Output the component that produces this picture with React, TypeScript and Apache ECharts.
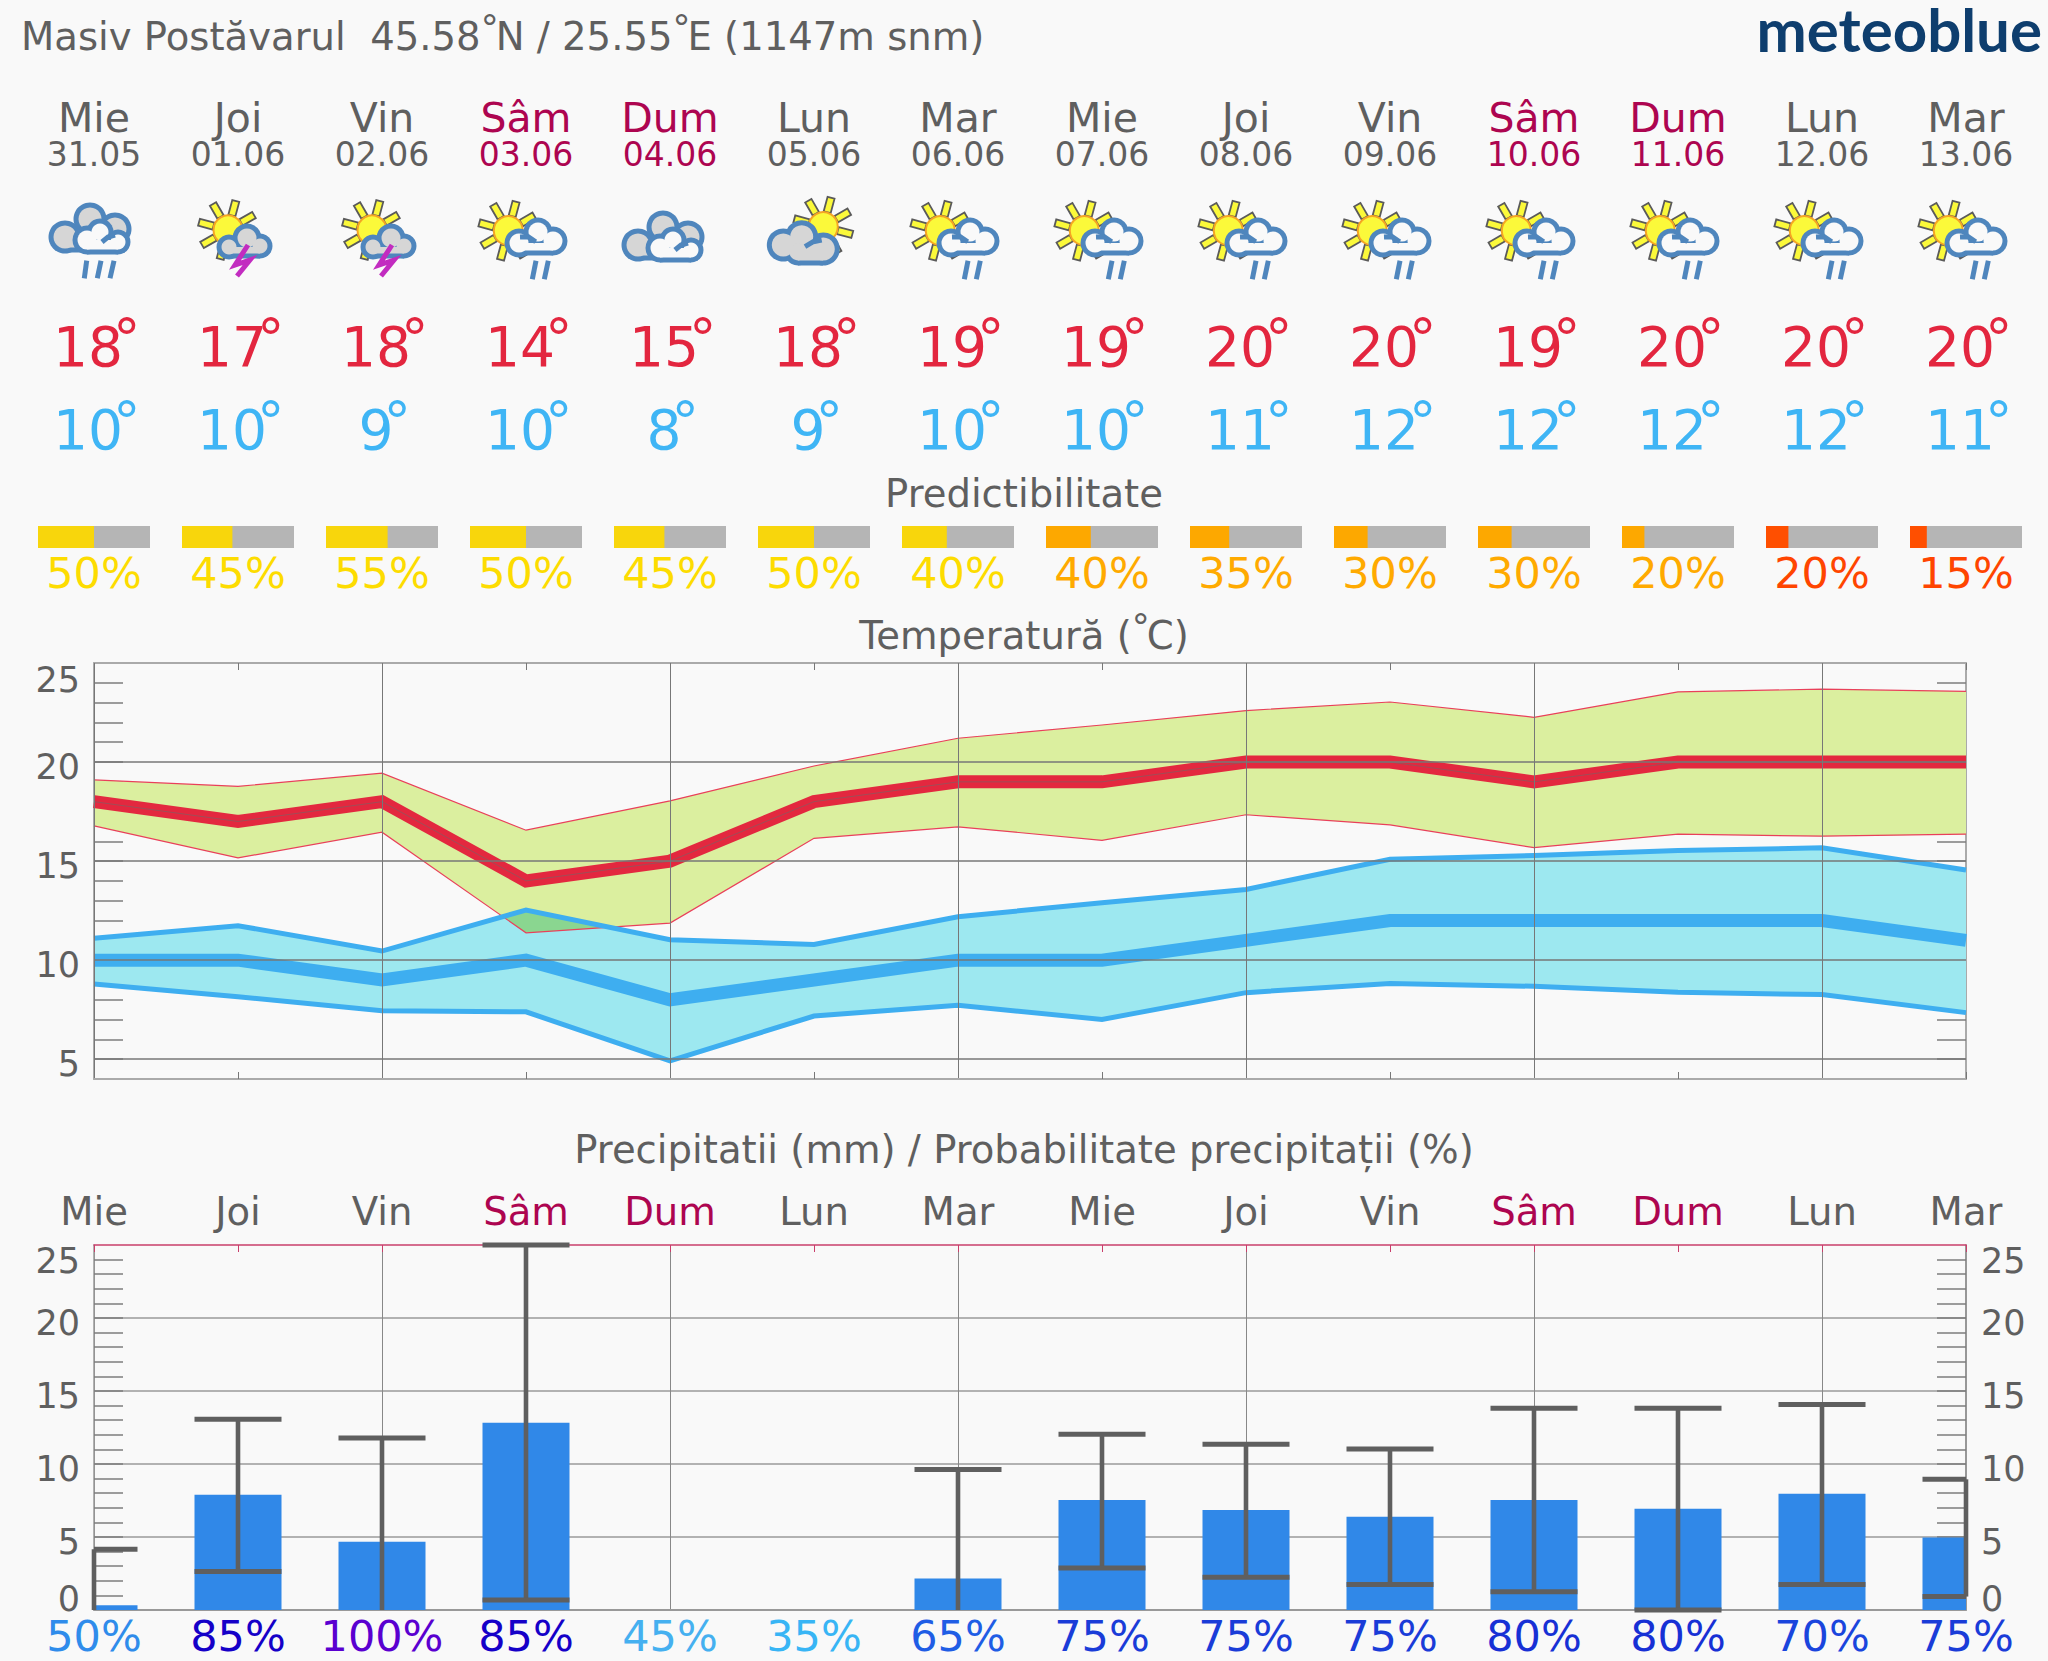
import React, { useEffect, useRef } from "react";
import * as echarts from "echarts";

const titleParts = ["Masiv Postăvarul  45.58", "°", "N / 25.55", "°", "E (1147m snm)"];
const tempTitleParts = ["Temperatură (", "°", "C)"];
const brandText = "meteoblue";
const predTitle = "Predictibilitate";
const precipTitle = "Precipitatii (mm) / Probabilitate precipitații (%)";
const dayNames = ["Mie", "Joi", "Vin", "Sâm", "Dum", "Lun", "Mar", "Mie", "Joi", "Vin", "Sâm", "Dum", "Lun", "Mar"];
const dates = ["31.05", "01.06", "02.06", "03.06", "04.06", "05.06", "06.06", "07.06", "08.06", "09.06", "10.06", "11.06", "12.06", "13.06"];
const iconKinds = ["A", "B", "B", "C", "D", "E", "C", "C", "C", "C", "C", "C", "C", "C"];
const predictability = [50, 45, 55, 50, 45, 50, 40, 40, 35, 30, 30, 20, 20, 15];
const predictabilityColors = ["#f8d60c", "#f8d60c", "#f8d60c", "#f8d60c", "#f8d60c", "#f8d60c", "#f8d60c", "#fda800", "#fda800", "#fda800", "#fda800", "#fda800", "#ff4f00", "#ff4f00"];
const predictabilityTextColors = ["#fddc00", "#fddc00", "#fddc00", "#fddc00", "#fddc00", "#fddc00", "#fddc00", "#ffaa00", "#ffaa00", "#ffaa00", "#ffaa00", "#ffaa00", "#ff4500", "#ff4500"];

const tMaxMean = [18, 17, 18, 14, 15, 18, 19, 19, 20, 20, 19, 20, 20, 20];
const tMaxHigh = [19.1, 18.77, 19.44, 16.56, 18.04, 19.8, 21.2, 21.87, 22.6, 23.03, 22.26, 23.54, 23.68, 23.57];
const tMaxLow = [16.78, 15.16, 16.46, 11.38, 11.87, 16.15, 16.73, 16.05, 17.34, 16.83, 15.68, 16.36, 16.26, 16.36];
const tMinMean = [10, 10, 9, 10, 8, 9, 10, 10, 11, 12, 12, 12, 12, 11];
const tMinHigh = [11.1, 11.74, 10.46, 12.53, 11.03, 10.79, 12.19, 12.9, 13.57, 15.09, 15.28, 15.53, 15.67, 14.55];
const tMinLow = [8.79, 8.15, 7.44, 7.39, 4.91, 7.18, 7.72, 7.01, 8.36, 8.82, 8.68, 8.38, 8.26, 7.35];

const precipMm = [0.33, 7.89, 4.68, 12.82, 0, 0, 2.15, 7.53, 6.85, 6.38, 7.53, 6.94, 7.96, 4.96];
const precipHigh = [4.16, 13.06, 11.78, 25, null, null, 9.63, 12.04, 11.36, 11.03, 13.81, 13.81, 14.07, 8.95];
const precipLowCap = [null, 2.64, null, 0.68, null, null, null, 2.88, 2.24, 1.75, 1.25, 0, 1.75, 0.92];
const precipProb = [50, 85, 100, 85, 45, 35, 65, 75, 75, 75, 80, 80, 70, 75];
const precipProbColors = ["#2f8ceb", "#1500c8", "#5a00d0", "#1500c8", "#45b0f0", "#38b5f5", "#1f5de5", "#1a3cd8", "#1a3cd8", "#1a3cd8", "#1730d5", "#1730d5", "#1a45dd", "#1a3cd8"];

const tempTickValues = [5, 6, 7, 8, 9, 10, 11, 12, 13, 14, 15, 16, 17, 18, 19, 20, 21, 22, 23, 24];
const precipTickValues = [1, 2, 3, 4, 5, 6, 7, 8, 9, 10, 11, 12, 13, 14, 15, 16, 17, 18, 19, 20, 21, 22, 23, 24];
const tempLabels = [5, 10, 15, 20, 25];
const precipLabels = [0, 5, 10, 15, 20, 25];
const gridTemp = [5, 10, 15, 20];
const gridPrecip = [5, 10, 15, 20];

const FONT = "'DejaVu Sans'";
const GRAY = "#5f5f5f";
const WEEKEND = "#ad0550";
const BG = "#f9f9f9";
const PLOT_LEFT = 94;
const STEP = 144;
const isWeekend = (d: string) => d === "Sâm" || d === "Dum";
const dayX = (i: number) => PLOT_LEFT + STEP * i;

const txt = (text: string, x: number, y: number, size: number, fill: string, align = "center", extra: any = {}) => ({
  type: "text",
  silent: true,
  style: { text, x, y, fill, align, verticalAlign: "middle", font: `${extra.weight || "normal"} ${size}px ${extra.family || FONT}` },
});

const measureCtx = typeof document !== "undefined" ? document.createElement("canvas").getContext("2d") : null;
function measure(text: string, size: number) {
  if (!measureCtx) return text.length * size * 0.6;
  measureCtx.font = `${size}px ${FONT}`;
  return measureCtx.measureText(text).width;
}
const DEG_SIZE = 36;
function titleRow(parts: string[], x: number, y: number, size: number, fill: string, centre: boolean) {
  const widths = parts.map((p) => (p === "°" ? measure(p, DEG_SIZE) - 3 : measure(p, size)));
  let cur = centre ? x - widths.reduce((a, b) => a + b, 0) / 2 : x;
  return parts.map((p, i) => {
    const el = p === "°" ? txt(p, cur, y - 8.6, DEG_SIZE, fill, "left") : txt(p, cur, y, size, fill, "left");
    cur += widths[i];
    return el;
  });
}
function tempLabel(v: number, x: number, y: number, fill: string) {
  const s = String(v);
  const size = 55;
  const w = measure(s, size);
  const left = x - (w + 12) / 2;
  return [txt(s, left, y, size, fill, "left"), txt("°", left + w - 10, y - 8.3, 55, fill, "left")];
}

const STROKE = "#4f86bd";
const SW = 5;
type C = [number, number, number];
function cloud(ox: number, oy: number, circles: C[], rect: [number, number, number, number], fill: string) {
  const out: any[] = [];
  for (const [x, y, r] of circles) out.push({ type: "circle", silent: true, shape: { cx: ox + x, cy: oy + y, r: r + SW / 2 }, style: { fill: STROKE } });
  out.push({ type: "rect", silent: true, shape: { x: ox + rect[0], y: oy + rect[1], width: rect[2] - rect[0], height: rect[3] - rect[1] + SW / 2 }, style: { fill: STROKE } });
  for (const [x, y, r] of circles) out.push({ type: "circle", silent: true, shape: { cx: ox + x, cy: oy + y, r: r - SW / 2 }, style: { fill } });
  out.push({ type: "rect", silent: true, shape: { x: ox + rect[0], y: oy + rect[1], width: rect[2] - rect[0], height: rect[3] - rect[1] - SW / 2 }, style: { fill } });
  return out;
}
function stroke(ox: number, oy: number, pts: [number, number][], color = STROKE, w = SW) {
  return { type: "polyline", silent: true, shape: { points: pts.map(([x, y]) => [ox + x, oy + y]) }, style: { stroke: color, lineWidth: w, fill: "none" } };
}
function sun(ox: number, oy: number) {
  const out: any[] = [];
  for (const deg of [-165, -120, -75, -30, 15, 60, 105, 150]) {
    const a = (deg * Math.PI) / 180;
    const c = Math.cos(a), s = Math.sin(a);
    const p = (r: number, t: number) => [ox + c * r - s * t, oy + s * r + c * t];
    out.push({ type: "polygon", silent: true, shape: { points: [p(15, -3.6), p(30, -3.6), p(30, 3.6), p(15, 3.6)] }, style: { fill: "#fbf93a", stroke: "#5a5a5a", lineWidth: 1.8 } });
  }
  out.push({ type: "circle", silent: true, shape: { cx: ox, cy: oy, r: 14.5 }, style: { fill: "#fbf93a", stroke: "#f5a623", lineWidth: 2 } });
  return out;
}
function bigClouds(cx: number, cy: number) {
  return [
    ...cloud(cx, cy, [[-29, -3, 14], [-4, -21, 14], [21, -11, 14]], [-29, -8, 31, 10], "#d6d6d6"),
    ...cloud(cx, cy, [[-7, 0, 12], [6, -8, 11], [24, 2, 10]], [-7, 0, 24, 12], "#f9f9f9"),
    stroke(cx, cy, [[8, 2], [14, -3], [21, -5]]),
  ];
}
function icon(kind: string, cx: number) {
  const cy = 240;
  if (kind === "A") {
    return [
      ...bigClouds(cx, cy),
      stroke(cx, cy, [[-7.3, 20.7], [-9.7, 38.3]], STROKE, 5),
      stroke(cx, cy, [[7, 20.7], [3.3, 38.3]], STROKE, 5),
      stroke(cx, cy, [[20, 20.7], [16, 38.3]], STROKE, 5),
    ];
  }
  if (kind === "B") {
    return [
      ...sun(cx - 10, cy - 10),
      ...cloud(cx, cy, [[-9, 7, 10], [9, -2, 12], [22, 6, 10]], [-9, 7, 22, 16], "#d6d6d6"),
      stroke(cx, cy, [[10, 5], [-3, 25], [12, 20], [-1, 36]], "#c22cc0", 5),
    ];
  }
  if (kind === "C") {
    return [
      ...sun(cx - 17.7, cy - 9.3),
      ...cloud(cx, cy, [[-7, 3, 12], [12, -8, 12], [27, 1, 12]], [-5, 3, 27, 13], "#f9f9f9"),
      stroke(cx, cy, [[-6, -3], [2.3, -3.3], [9.7, 1.7]]),
      stroke(cx, cy, [[10, 20.7], [6.3, 39.3]], STROKE, 5),
      stroke(cx, cy, [[22.3, 20.7], [18.3, 39.3]], STROKE, 5),
    ];
  }
  if (kind === "D") return bigClouds(cx - 3, cy + 8);
  return [
    ...sun(cx + 9.3, cy - 13.3),
    ...cloud(cx, cy, [[-30.7, 5, 14], [-12.3, -3.3, 14], [-16, 12, 11], [9.3, 9, 14]], [-16, 5, 9, 23], "#d6d6d6"),
    stroke(cx, cy, [[-9, 6.7], [-0.7, 1.7], [7.7, 0]]),
  ];
}

const bandData = dayNames.map((_, i) => i);
function bandSeries(hi: number[], lo: number[], fill: string, z = 2) {
  return {
    type: "custom",
    xAxisIndex: 0,
    yAxisIndex: 0,
    silent: true,
    z,
    data: bandData.map((i) => [i, hi[i], lo[i]]),
    encode: { x: 0, y: 1 },
    renderItem: (params: any, api: any) => {
      if (params.dataIndex !== 0) return null;
      const up = bandData.map((i) => api.coord([i, hi[i]]));
      const dn = bandData.map((i) => api.coord([i, lo[i]])).reverse();
      return { type: "polygon", shape: { points: [...up, ...dn] }, style: { fill } };
    },
  };
}
// where the band of the daily minimum overlaps the band of the daily maximum
function overlapPolygon(topA: number[], bottomB: number[]): [number, number][] {
  const up: [number, number][] = [];
  const dn: [number, number][] = [];
  for (let i = 0; i < topA.length - 1; i++) {
    const d0 = topA[i] - bottomB[i];
    const d1 = topA[i + 1] - bottomB[i + 1];
    if (d0 > 0) {
      up.push([i, topA[i]]);
      dn.push([i, bottomB[i]]);
    }
    if (d0 > 0 !== d1 > 0) {
      const t = d0 / (d0 - d1);
      const p: [number, number] = [i + t, topA[i] + t * (topA[i + 1] - topA[i])];
      up.push(p);
      dn.push(p);
    }
  }
  return [...up, ...dn.reverse()];
}
function tLine(values: number[], color: string, width: number, z = 3, opacity = 1) {
  return {
    type: "line",
    xAxisIndex: 0,
    yAxisIndex: 0,
    data: values,
    silent: true,
    showSymbol: false,
    symbol: "none",
    z,
    lineStyle: { color, width, cap: "butt", join: "miter", opacity },
  };
}

function buildOption() {
  const labelStyle = { color: GRAY, fontSize: 35, fontFamily: FONT };
  const catBase = { type: "category", boundaryGap: false, data: dayNames, axisLabel: { show: false } };
  const tickInterval = (i: number) => i % 2 === 1;
  const gridInterval = (i: number) => i % 2 === 0;
  const xAxis = [
    { ...catBase, gridIndex: 0, position: "bottom", axisLine: { onZero: false, lineStyle: { color: "#aaaaaa", width: 2 } },
      axisTick: { inside: true, length: 7, interval: tickInterval, lineStyle: { color: "#777777", width: 1 } },
      splitLine: { show: true, interval: gridInterval, lineStyle: { color: "#777777", width: 1 } }, z: 5 },
    { ...catBase, gridIndex: 0, position: "top", axisLine: { onZero: false, lineStyle: { color: "#aaaaaa", width: 2 } },
      axisTick: { inside: true, length: 7, interval: tickInterval, lineStyle: { color: "#777777", width: 1 } }, splitLine: { show: false } },
    { ...catBase, gridIndex: 1, position: "bottom", axisLine: { onZero: false, lineStyle: { color: "#999999", width: 2 } },
      axisTick: { show: false }, splitLine: { show: true, interval: gridInterval, lineStyle: { color: "#888888", width: 1 } } },
    { ...catBase, gridIndex: 1, position: "top", axisLine: { onZero: false, lineStyle: { color: "#c93f6b", width: 1.5 } },
      axisTick: { inside: true, length: 7, interval: 0, lineStyle: { color: "#c93f6b", width: 1 } }, splitLine: { show: false } },
    { ...catBase, gridIndex: 2, show: false },
  ];
  const richTemp = {
    n: { ...labelStyle, padding: [10, 0, 0, 0] },
    t: { ...labelStyle, padding: [34, 0, 0, 0] },
  };
  const richPrecip = {
    n: { ...labelStyle, padding: [9, 0, 0, 0] },
    t: { ...labelStyle, padding: [32, 0, 0, 0] },
    b: { ...labelStyle, padding: [0, 0, 22, 0] },
  };
  const tick = (values: number[]) => ({ show: true, inside: true, length: 29, customValues: values, lineStyle: { color: "#7d7d7d", width: 1.5 } });
  const noLabel = { show: false };
  const precipFmt = (v: number) => `{${v === 25 ? "t" : v === 0 ? "b" : "n"}|${v}}`;
  const yAxis = [
    { type: "value", gridIndex: 0, position: "left", min: 4, max: 25, axisLine: { show: true, onZero: false, lineStyle: { color: "#aaaaaa", width: 2 } }, axisTick: tick(tempTickValues), splitLine: { show: false },
      axisLabel: { show: true, margin: 14, customValues: tempLabels, showMinLabel: true, showMaxLabel: true, formatter: (v: number) => `{${v === 25 ? "t" : "n"}|${v}}`, rich: richTemp } },
    { type: "value", gridIndex: 0, position: "right", min: 4, max: 25, axisLine: { show: true, onZero: false, lineStyle: { color: "#aaaaaa", width: 2 } }, axisTick: tick(tempTickValues), splitLine: { show: false }, axisLabel: noLabel },
    { type: "value", gridIndex: 0, position: "left", min: 4, max: 25, z: 5, axisLine: { show: false }, axisTick: { show: false, customValues: gridTemp }, axisLabel: noLabel, splitLine: { show: true, lineStyle: { color: "#777777", width: 1.5 } } },
    { type: "value", gridIndex: 1, position: "left", min: 0, max: 25, axisLine: { show: true, onZero: false, lineStyle: { color: "#999999", width: 1.5 } }, axisTick: tick(precipTickValues), splitLine: { show: false },
      axisLabel: { show: true, margin: 14, customValues: precipLabels, showMinLabel: true, showMaxLabel: true, formatter: precipFmt, rich: richPrecip } },
    { type: "value", gridIndex: 1, position: "right", min: 0, max: 25, axisLine: { show: true, onZero: false, lineStyle: { color: "#777777", width: 1.5 } }, axisTick: tick(precipTickValues), splitLine: { show: false },
      axisLabel: { show: true, margin: 15, customValues: precipLabels, showMinLabel: true, showMaxLabel: true, formatter: precipFmt, rich: richPrecip } },
    { type: "value", gridIndex: 1, position: "left", min: 0, max: 25, axisLine: { show: false }, axisTick: { show: false, customValues: gridPrecip }, axisLabel: noLabel, splitLine: { show: true, lineStyle: { color: "#9a9a9a", width: 1.5 } } },
    { type: "value", gridIndex: 2, min: 0, max: 100, show: false },
  ];
  const overlap = overlapPolygon(tMinHigh, tMaxLow);
  const series: any[] = [
    bandSeries(tMaxHigh, tMaxLow, "#dbef9f"),
    bandSeries(tMinHigh, tMinLow, "#9de8f0"),
    {
      type: "custom", xAxisIndex: 0, yAxisIndex: 0, silent: true, z: 2,
      data: bandData.map((i) => [i, tMinHigh[i]]),
      encode: { x: 0, y: 1 },
      renderItem: (params: any, api: any) => {
        if (params.dataIndex !== 0) return null;
        // a category axis rounds its input, so a point between two days is placed between their coordinates
        const at = ([x, y]: [number, number]) => {
          const i = Math.floor(x);
          const a = api.coord([i, y]);
          const b = api.coord([i + 1, y]);
          return [a[0] + (b[0] - a[0]) * (x - i), a[1]];
        };
        return { type: "polygon", shape: { points: overlap.map(at) }, style: { fill: "#8ad690" } };
      },
    },
    tLine(tMaxHigh, "#e9405a", 1.2),
    tLine(tMaxLow, "#e9405a", 1.2),
    tLine(tMinHigh, "#3eaef0", 5),
    tLine(tMinLow, "#3eaef0", 5),
    tLine(tMinMean, "#3eaef0", 13),
    tLine(tMaxMean, "#e3283f", 13),
    tLine(tMaxMean, "#6a6a6a", 0.8, 4, 0.7),
    {
      type: "custom", xAxisIndex: 2, yAxisIndex: 3, silent: true, z: 2,
      data: precipMm.map((v, i) => [i, v]),
      encode: { x: 0, y: 1 },
      renderItem: (params: any, api: any) => {
        const v = api.value(1);
        if (!v) return null;
        const top = api.coord([params.dataIndex, v]);
        const bottom = api.coord([params.dataIndex, 0]);
        const cs = params.coordSys;
        const a = Math.max(top[0] - 43.5, cs.x);
        const b = Math.min(top[0] + 43.5, cs.x + cs.width);
        return { type: "rect", shape: { x: a, y: top[1], width: b - a, height: bottom[1] - top[1] }, style: { fill: "#3088e8" } };
      },
    },
    {
      type: "custom", xAxisIndex: 2, yAxisIndex: 3, silent: true, z: 3,
      data: dayNames.map((_, i) => [i, precipHigh[i], precipLowCap[i]]),
      encode: { x: 0, y: 1 },
      renderItem: (params: any, api: any) => {
        const i = params.dataIndex;
        const hi = precipHigh[i];
        if (hi === null) return null;
        const lo = precipLowCap[i];
        const top = api.coord([i, hi]);
        const bottom = api.coord([i, lo === null ? 0 : lo]);
        const cs = params.coordSys;
        const cap = (y: number) => {
          const a = Math.max(top[0] - 43.5, cs.x);
          const b = Math.min(top[0] + 43.5, cs.x + cs.width);
          return { type: "rect", shape: { x: a, y: y - 2.5, width: b - a, height: 5 }, style: { fill: "#5f5f5f" } };
        };
        const children: any[] = [
          { type: "rect", shape: { x: top[0] - 2.3, y: top[1], width: 4.6, height: bottom[1] - top[1] }, style: { fill: "#5f5f5f" } },
          cap(top[1]),
        ];
        if (lo !== null) children.push(cap(bottom[1]));
        return { type: "group", children };
      },
    },
    {
      type: "custom", xAxisIndex: 4, yAxisIndex: 6, silent: true,
      data: predictability.map((p, i) => [i, p]),
      encode: { x: 0, y: 1 },
      renderItem: (params: any, api: any) => {
        const i = params.dataIndex;
        const c = api.coord([i, 0]);
        const cs = params.coordSys;
        const w = 112;
        return {
          type: "group",
          children: [
            { type: "rect", shape: { x: c[0] - w / 2, y: cs.y, width: w, height: cs.height }, style: { fill: "#b5b5b5" } },
            { type: "rect", shape: { x: c[0] - w / 2, y: cs.y, width: (w * api.value(1)) / 100, height: cs.height }, style: { fill: predictabilityColors[i] } },
          ],
        };
      },
    },
  ];
  const graphic: any[] = [
    ...titleRow(titleParts, 21, 36, 38.6, GRAY, false),
    txt(brandText, 2042, 29, 60, "#0e3e6e", "right", { weight: "bold", family: "Lato" }),
    txt(predTitle, 1024, 493, 38.6, GRAY),
    ...titleRow(tempTitleParts, 1024, 635, 38.6, GRAY, true),
    txt(precipTitle, 1024, 1149, 38.6, GRAY),
  ];
  dayNames.forEach((d, i) => {
    const x = dayX(i);
    const c = isWeekend(d) ? WEEKEND : GRAY;
    graphic.push(txt(d, x, 118, 41, c));
    graphic.push(txt(dates[i], x, 154, 33, c));
    graphic.push(...icon(iconKinds[i], x));
    graphic.push(...tempLabel(tMaxMean[i], x, 347, "#e3263f"));
    graphic.push(...tempLabel(tMinMean[i], x, 430, "#3fb5f5"));
    graphic.push(txt(`${predictability[i]}%`, x, 573, 43, predictabilityTextColors[i]));
    graphic.push(txt(d, x, 1211, 38.6, c));
    graphic.push(txt(`${precipProb[i]}%`, x, 1636, 43, precipProbColors[i]));
  });
  return {
    animation: false,
    backgroundColor: BG,
    textStyle: { fontFamily: FONT },
    grid: [
      { left: PLOT_LEFT, top: 663, width: STEP * 13, height: 416, containLabel: false },
      { left: PLOT_LEFT, top: 1245, width: STEP * 13, height: 365, containLabel: false },
      { left: PLOT_LEFT, top: 526, width: STEP * 13, height: 22, containLabel: false },
    ],
    xAxis,
    yAxis,
    series,
    graphic,
  };
}

export default function App() {
  const ref = useRef<HTMLDivElement>(null);
  useEffect(() => {
    const chart = echarts.init(ref.current!, undefined, { renderer: "svg" });
    chart.setOption(buildOption() as any);
    return () => chart.dispose();
  }, []);
  return <div ref={ref} style={{ position: "absolute", left: 0, top: 0, width: 2048, height: 1661 }} />;
}
